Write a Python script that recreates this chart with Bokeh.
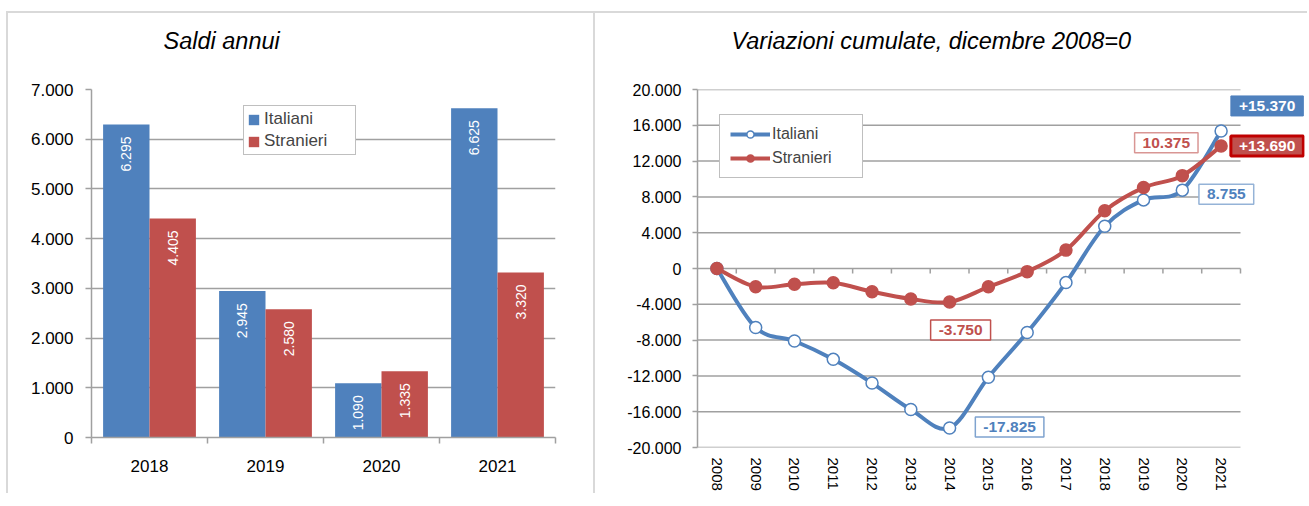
import numpy as np
from bokeh.plotting import figure
from bokeh.models import Range1d, FixedTicker, Legend, LegendItem, Label, ColumnDataSource, Title
from bokeh.layouts import row
from bokeh.embed import file_html
from bokeh.resources import INLINE
from bokeh.core.properties import value

# ---------------- data ----------------
years_annual = ["2018", "2019", "2020", "2021"]
saldo_italiani = [6295, 2945, 1090, 6625]
saldo_stranieri = [4405, 2580, 1335, 3320]
y_ticks_annual = [0, 1000, 2000, 3000, 4000, 5000, 6000, 7000]

years_cum = [2008, 2009, 2010, 2011, 2012, 2013, 2014, 2015, 2016, 2017, 2018, 2019, 2020, 2021]
cum_italiani = [0, -6600, -8100, -10150, -12800, -15750, -17825, -12150, -7150, -1575, 4720, 7665, 8755, 15370]
cum_stranieri = [0, -2050, -1750, -1600, -2600, -3400, -3750, -2050, -350, 2055, 6460, 9040, 10375, 13690]
y_ticks_cum = [-20000, -16000, -12000, -8000, -4000, 0, 4000, 8000, 12000, 16000, 20000]

series_names = ["Italiani", "Stranieri"]
title_left = "Saldi annui"
title_right = "Variazioni cumulate, dicembre 2008=0"

# ---------------- styles ----------------
BLUE = "#4F81BD"
RED = "#C0504D"
GRID = "#A0A0A0"
FRAME = "2px solid #D9D9D9"
FONT = "Liberation Sans"


def fmt(v, sign=False):
    s = f"{abs(int(v)):,}".replace(",", ".")
    if v < 0:
        return "-" + s
    if sign and v > 0:
        return "+" + s
    return s


def style_axis(ax, size):
    ax.axis_line_color = GRID
    ax.axis_line_width = 1.5
    ax.major_tick_line_color = GRID
    ax.major_tick_line_width = 1.5
    ax.minor_tick_line_color = GRID
    ax.minor_tick_line_width = 1.5
    ax.major_label_text_font = FONT
    ax.major_label_text_font_size = size
    ax.major_label_text_color = "#000000"


def add_title(p, text, offset):
    # spacer between frame and title, then the title itself
    p.add_layout(Title(text=" ", text_font_size="1px", standoff=28), "above")
    p.add_layout(Title(text=text, align="left", offset=offset, text_font=FONT,
                       text_font_style="italic", text_font_size="23.5px",
                       text_color="#000000", standoff=10), "above")


# ================= LEFT: annual balances =================
p1 = figure(width=589, height=482, x_range=Range1d(-0.5, len(years_annual) - 0.5),
            y_range=Range1d(y_ticks_annual[0], y_ticks_annual[-1]), title=None,
            output_backend="svg", toolbar_location=None,
            min_border_left=83, min_border_right=42, min_border_top=76, min_border_bottom=58)
p1.margin = (11, 0, 0, 6)
p1.styles = {"border-top": FRAME, "border-left": FRAME, "border-right": FRAME}
p1.outline_line_color = None
p1.xgrid.visible = False
p1.ygrid.grid_line_color = GRID
p1.ygrid.grid_line_width = 1.5
add_title(p1, title_left, 72)

xs = np.arange(len(years_annual))
src1 = ColumnDataSource(dict(
    x_i=xs - 0.2, x_s=xs + 0.2,
    ital=saldo_italiani, stran=saldo_stranieri,
    lab_i=[fmt(v) for v in saldo_italiani], lab_s=[fmt(v) for v in saldo_stranieri],
))
r_i = p1.vbar(x="x_i", top="ital", width=0.4, source=src1, fill_color=BLUE, line_color=None)
r_s = p1.vbar(x="x_s", top="stran", width=0.4, source=src1, fill_color=RED, line_color=None)
for xcol, ycol, lcol in (("x_i", "ital", "lab_i"), ("x_s", "stran", "lab_s")):
    p1.text(x=xcol, y=ycol, text=lcol, source=src1, angle=np.pi / 2, text_align="right",
            text_baseline="middle", y_offset=12, text_color="white",
            text_font=value(FONT), text_font_size="14px")

style_axis(p1.xaxis[0], "17px")
p1.xaxis.ticker = FixedTicker(ticks=[int(i) for i in xs],
                              minor_ticks=[float(i) - 0.5 for i in range(len(years_annual) + 1)])
p1.xaxis.major_label_overrides = {int(i): y for i, y in enumerate(years_annual)}
p1.xaxis.major_tick_out = 0
p1.xaxis.major_tick_in = 0
p1.xaxis.minor_tick_out = 6
p1.xaxis.minor_tick_in = 0
p1.xaxis.major_label_standoff = 16

style_axis(p1.yaxis[0], "17px")
p1.yaxis.ticker = FixedTicker(ticks=y_ticks_annual, minor_ticks=[])
p1.yaxis.major_label_overrides = {t: fmt(t) for t in y_ticks_annual}
p1.yaxis.major_tick_out = 6
p1.yaxis.major_tick_in = 0
p1.yaxis.minor_tick_out = 0
p1.yaxis.minor_tick_in = 0
p1.yaxis.major_label_standoff = 12

leg1 = Legend(items=[LegendItem(label=series_names[0], renderers=[r_i]),
                     LegendItem(label=series_names[1], renderers=[r_s])],
              location=(152, 282), orientation="vertical",
              glyph_width=13, glyph_height=13, label_standoff=4, label_width=88,
              padding=3, spacing=2, margin=0,
              label_text_font=FONT, label_text_font_size="17px",
              border_line_color="#7F7F7F", border_line_width=1.5,
              background_fill_color="white", background_fill_alpha=1.0)
p1.add_layout(leg1)

# ================= RIGHT: cumulative changes =================
CAT_PX = 543 / len(years_cum)          # pixel width of one year slot
EXTRA_RIGHT_PX = 64                   # room for the end-of-line labels
x_lo = years_cum[0] - 0.5
x_hi = years_cum[-1] + 0.5
p2 = figure(width=712, height=492, x_range=Range1d(x_lo, x_hi + EXTRA_RIGHT_PX / CAT_PX),
            y_range=Range1d(y_ticks_cum[0], y_ticks_cum[-1]), title=None,
            output_backend="svg", toolbar_location=None,
            min_border_left=102, min_border_right=3, min_border_top=76, min_border_bottom=58)
p2.margin = (11, 0, 0, 0)
p2.styles = {"border-top": FRAME}
p2.outline_line_color = None
p2.xgrid.visible = False
p2.ygrid.visible = False
add_title(p2, title_right, 34)

# horizontal grid lines limited to the category span
p2.segment(x0=[x_lo] * len(y_ticks_cum), x1=[x_hi] * len(y_ticks_cum), y0=y_ticks_cum, y1=y_ticks_cum,
           line_color=GRID, line_width=1.5)

# category tick marks on the zero line
frame_h = 445 - 89
tick_len = (y_ticks_cum[-1] - y_ticks_cum[0]) / frame_h * 5
bounds = [y + 0.5 for y in years_cum]
p2.segment(x0=bounds, y0=[0] * len(bounds), x1=bounds, y1=[-tick_len] * len(bounds),
           line_color=GRID, line_width=1.5)


def bezier_cols(xv, yv):
    P = np.column_stack([xv, yv]).astype(float)
    n = len(P)
    E = np.vstack([P[0], P, P[-1]])
    c0 = P[:-1] + (E[2:n + 1] - E[0:n - 1]) / 6.0
    c1 = P[1:] - (E[3:n + 2] - E[1:n]) / 6.0
    return dict(x0=P[:-1, 0], y0=P[:-1, 1], x1=P[1:, 0], y1=P[1:, 1],
                cx0=c0[:, 0], cy0=c0[:, 1], cx1=c1[:, 0], cy1=c1[:, 1])


p2.bezier(source=ColumnDataSource(bezier_cols(years_cum, cum_italiani)),
          x0="x0", y0="y0", x1="x1", y1="y1", cx0="cx0", cy0="cy0", cx1="cx1", cy1="cy1",
          line_color=BLUE, line_width=4, line_cap="round")
sc_i = p2.scatter(x=years_cum, y=cum_italiani, size=12, marker="circle",
                  fill_color="white", line_color=BLUE, line_width=1.5)
p2.bezier(source=ColumnDataSource(bezier_cols(years_cum, cum_stranieri)),
          x0="x0", y0="y0", x1="x1", y1="y1", cx0="cx0", cy0="cy0", cx1="cx1", cy1="cy1",
          line_color=RED, line_width=4, line_cap="round")
sc_s = p2.scatter(x=years_cum, y=cum_stranieri, size=12, marker="circle",
                  fill_color=RED, line_color=RED, line_width=1.5)

# single-point lines: invisible on the plot, give the legend its line sample
leg_line_i = p2.line(x=years_cum[:1], y=cum_italiani[:1], line_color=BLUE, line_width=4)
leg_line_s = p2.line(x=years_cum[:1], y=cum_stranieri[:1], line_color=RED, line_width=4)

style_axis(p2.xaxis[0], "15px")
p2.xaxis.axis_line_color = None
p2.xaxis.ticker = FixedTicker(ticks=years_cum, minor_ticks=[])
p2.xaxis.major_label_overrides = {y: str(y) for y in years_cum}
p2.xaxis.major_tick_out = 0
p2.xaxis.major_tick_in = 0
p2.xaxis.minor_tick_out = 0
p2.xaxis.minor_tick_in = 0
p2.xaxis.major_label_orientation = "vertical"
p2.xaxis.major_label_standoff = 10

style_axis(p2.yaxis[0], "16px")
p2.yaxis.ticker = FixedTicker(ticks=y_ticks_cum, minor_ticks=[])
p2.yaxis.major_label_overrides = {t: fmt(t) for t in y_ticks_cum}
p2.yaxis.major_tick_out = 5
p2.yaxis.major_tick_in = 0
p2.yaxis.minor_tick_out = 0
p2.yaxis.minor_tick_in = 0
p2.yaxis.major_label_standoff = 11

leg2 = Legend(items=[LegendItem(label=series_names[0], renderers=[leg_line_i, sc_i]),
                     LegendItem(label=series_names[1], renderers=[leg_line_s, sc_s])],
              location=(22, 269), orientation="vertical",
              glyph_width=40, glyph_height=18, label_standoff=2, label_width=80,
              padding=10, spacing=6, margin=0,
              label_text_font=FONT, label_text_font_size="16px",
              border_line_color="#7F7F7F", border_line_width=1.5,
              background_fill_color="white", background_fill_alpha=1.0)
p2.add_layout(leg2)

# data-label boxes
i_min = int(np.argmin(cum_italiani))
s_min = int(np.argmin(cum_stranieri))
label_specs = [
    # (x, y, text, dx, dy, text color, fill, border, border width)
    (years_cum[-1], cum_italiani[-1], fmt(cum_italiani[-1], True), 46, 25, "white", BLUE, BLUE, 1),
    (years_cum[-1], cum_stranieri[-1], fmt(cum_stranieri[-1], True), 46, 0, "white", RED, "#C00000", 3),
    (years_cum[-2], cum_stranieri[-2], fmt(cum_stranieri[-2]), -16, 33, RED, "white", "#D99694", 1.5),
    (years_cum[-2], cum_italiani[-2], fmt(cum_italiani[-2]), 44, -4, BLUE, "white", "#95B3D7", 1.5),
    (years_cum[s_min], cum_stranieri[s_min], fmt(cum_stranieri[s_min]), 11, -28, RED, "white", RED, 1.5),
    (years_cum[i_min], cum_italiani[i_min], fmt(cum_italiani[i_min]), 60, 1, BLUE, "white", "#7FA3CF", 1.5),
]
for x, y, t, dx, dy, tc, fc, bc, bw in label_specs:
    p2.add_layout(Label(x=x, y=y, text=t, x_offset=dx, y_offset=dy,
                        text_align="center", text_baseline="middle",
                        text_font=FONT, text_font_style="bold", text_font_size="15.5px",
                        text_color=tc, background_fill_color=fc, background_fill_alpha=1.0,
                        border_line_color=bc, border_line_width=bw,
                        padding=dict(left=8, right=8, top=5, bottom=5)))

layout = row(p1, p2)
open("out.html", "w").write(file_html(layout, INLINE))
